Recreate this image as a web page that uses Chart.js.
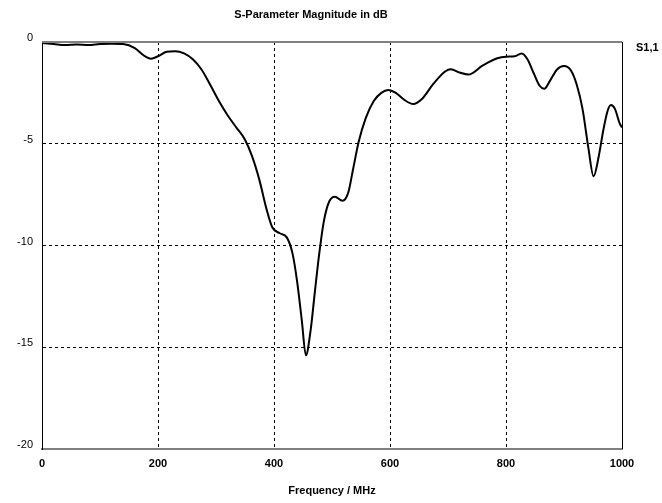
<!DOCTYPE html>
<html>
<head>
<meta charset="utf-8">
<script src="https://cdn.jsdelivr.net/npm/chart.js@4/dist/chart.umd.min.js"></script>
<style>
  body { margin: 0; background: #fff; }
  canvas { display: block; }
</style>
</head>
<body>
<canvas id="sparamChart" width="662" height="503"></canvas>
<script>
// S1,1 magnitude
const freqMHz = [0, 20, 40, 60, 80, 100, 120, 140, 160, 175, 188, 200, 215, 230, 245, 260, 275, 290, 305, 320,
    335, 350, 362, 375, 387, 397, 410, 422, 432, 440, 448, 455, 463, 470, 478, 486, 495, 505, 518, 528,
    536, 546, 558, 572, 585, 597, 610, 625, 640, 655, 675, 695, 705, 720, 735, 760, 785, 800, 815, 827,
    837, 848, 858, 866, 876, 888, 900, 912, 922, 932, 942, 951, 960, 968, 975, 981, 988, 996, 1000];
const s11dB = [-0.05, -0.1, -0.15, -0.12, -0.15, -0.1, -0.08, -0.1, -0.3, -0.65, -0.82, -0.7, -0.48, -0.45, -0.56, -0.85, -1.35, -2.1, -2.9, -3.6,
    -4.2, -4.8, -5.6, -6.8, -8.2, -9.1, -9.4, -9.6, -10.4, -11.8, -13.7, -15.4, -14.2, -12.4, -10.4, -8.8, -7.85, -7.6, -7.8, -7.4,
    -6.3, -4.9, -3.75, -2.9, -2.5, -2.36, -2.5, -2.85, -3.05, -2.8, -2.05, -1.45, -1.34, -1.5, -1.6, -1.15, -0.8, -0.72, -0.7, -0.56,
    -0.85, -1.55, -2.15, -2.3, -1.9, -1.35, -1.18, -1.4, -2.1, -3.3, -5.2, -6.6, -5.6, -4.3, -3.4, -3.1, -3.3, -4.0, -4.2];
const xTicks = [0, 200, 400, 600, 800, 1000];
const yTicks = [0, -5, -10, -15, -20];
const seriesName = 'S1,1';

const fontFamily = '"Liberation Sans", Arial, sans-serif';

// frame: gray top line, black right line, plus the series label
const framePlugin = {
    id: 'frame',
    afterDraw(chart) {
        const ctx = chart.ctx;
        const a = chart.chartArea;
        ctx.save();
        ctx.strokeStyle = '#808080';
        ctx.lineWidth = 2;
        ctx.beginPath();
        ctx.moveTo(a.left, a.top);
        ctx.lineTo(a.right, a.top);
        ctx.stroke();
        ctx.strokeStyle = '#000';
        ctx.lineWidth = 1;
        ctx.beginPath();
        ctx.moveTo(a.right + 0.5, a.top);
        ctx.lineTo(a.right + 0.5, a.bottom);
        ctx.stroke();
        ctx.fillStyle = '#000';
        ctx.font = 'bold 11px ' + fontFamily;
        ctx.textAlign = 'left';
        ctx.textBaseline = 'middle';
        ctx.fillText(chart.data.datasets[0].label, a.right + 14, a.top + 6);
        ctx.restore();
    }
};

const ctx = document.getElementById('sparamChart').getContext('2d');
const chart = new Chart(ctx, {
    type: 'line',
    data: {
        datasets: [{
            label: seriesName,
            data: freqMHz.map((f, i) => ({ x: f, y: s11dB[i] })),
            borderColor: '#000',
            borderWidth: 2,
            pointRadius: 0,
            cubicInterpolationMode: 'monotone',
            fill: false
        }]
    },
    options: {
        responsive: false,
        animation: false,
        layout: { padding: { top: 0, right: 40, left: 0, bottom: 0 } },
        plugins: {
            legend: { display: false },
            tooltip: { enabled: false },
            title: {
                display: true,
                text: 'S-Parameter Magnitude in dB',
                color: '#000',
                font: { family: fontFamily, size: 11, weight: 'bold', lineHeight: 1 },
                padding: { top: 9, bottom: 22 }
            }
        },
        scales: {
            x: {
                type: 'linear',
                min: 0,
                max: 1000,
                afterBuildTicks: scale => { scale.ticks = xTicks.map(v => ({ value: v })); },
                afterFit: scale => { scale.height = 54; },
                grid: {
                    drawTicks: false,
                    color: c => (c.tick && (c.tick.value === 0 || c.tick.value === 1000)) ? 'rgba(0,0,0,0)' : '#000',
                    lineWidth: 1
                },
                border: { display: true, color: '#808080', width: 2, dash: [3, 3] },
                ticks: {
                    color: '#000',
                    padding: 8,
                    maxRotation: 0,
                    callback: v => String(v),
                    font: { family: fontFamily, size: 11, weight: 'bold' }
                },
                title: {
                    display: true,
                    text: 'Frequency / MHz',
                    color: '#000',
                    font: { family: fontFamily, size: 11, weight: 'bold' },
                    padding: { top: 0, bottom: 5 }
                }
            },
            y: {
                type: 'linear',
                min: -20,
                max: 0,
                afterBuildTicks: scale => { scale.ticks = yTicks.map(v => ({ value: v })); },
                afterFit: scale => { scale.width = 42; },
                grid: {
                    drawTicks: false,
                    color: c => (c.tick && (c.tick.value === 0 || c.tick.value === -20)) ? 'rgba(0,0,0,0)' : '#000',
                    lineWidth: 1
                },
                border: { display: true, color: '#000', width: 1, dash: [3, 3] },
                ticks: {
                    color: '#000',
                    padding: 9,
                    labelOffset: -4,
                    callback: v => String(v),
                    font: { family: fontFamily, size: 11, weight: 'normal' }
                }
            }
        }
    },
    plugins: [framePlugin]
});
</script>
</body>
</html>
